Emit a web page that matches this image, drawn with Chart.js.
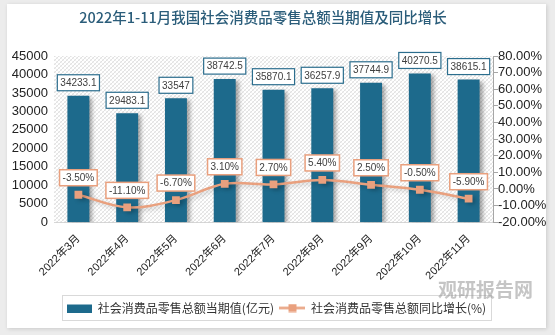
<!DOCTYPE html>
<html>
<head>
<meta charset="utf-8">
<script src="https://cdn.jsdelivr.net/npm/chart.js@4/dist/chart.umd.min.js"></script>
<style>
  html, body { margin: 0; padding: 0; background: #ececec; }
  #card {
    position: absolute; left: 7px; top: 4px; width: 539px; height: 324px;
    background: #fff; box-shadow: 1px 1px 4px rgba(0,0,0,0.15);
  }
  canvas { display: block; }
</style>
</head>
<body>
<div id="card"><canvas id="chart" width="539" height="324"></canvas></div>
<script>
const titleText = '2022年1-11月我国社会消费品零售总额当期值及同比增长';
const months = ['2022年3月', '2022年4月', '2022年5月', '2022年6月', '2022年7月', '2022年8月', '2022年9月', '2022年10月', '2022年11月'];
const retailValues = [34233.1, 29483.1, 33547, 38742.5, 35870.1, 36257.9, 37744.9, 40270.5, 38615.1];
const growthRates = [-3.5, -11.1, -6.7, 3.1, 2.7, 5.4, 2.5, -0.5, -5.9];
const seriesNames = ['社会消费品零售总额当期值(亿元)', '社会消费品零售总额同比增长(%)'];
const leftTicks = [0, 45000, 5000];
const rightTicks = [-20, 80, 10];

const barColor = '#1d6a8c';
const lineColor = '#e9a07e';
const fontFam = '"Liberation Sans", "Noto Sans CJK SC", sans-serif';

// hatch fill for the plot area
const hatch = document.createElement('canvas');
hatch.width = 4; hatch.height = 4;
{
  const h = hatch.getContext('2d');
  h.fillStyle = '#ffffff'; h.fillRect(0, 0, 4, 4);
  h.fillStyle = '#e2e2e2';
  for (let i = 0; i < 4; i++) h.fillRect(i, 3 - i, 1, 1);
  h.fillStyle = '#efefef';
  for (let i = 0; i < 4; i++) h.fillRect(i, i, 1, 1);
}

// legend swatches
const barSwatch = document.createElement('canvas');
barSwatch.width = 25; barSwatch.height = 9;
{
  const c = barSwatch.getContext('2d');
  c.fillStyle = barColor; c.fillRect(0, 1, 25, 8);
}
const lineSwatch = document.createElement('canvas');
lineSwatch.width = 26; lineSwatch.height = 9;
{
  const c = lineSwatch.getContext('2d');
  c.strokeStyle = lineColor; c.lineWidth = 2.5;
  c.beginPath(); c.moveTo(0, 4.5); c.lineTo(26, 4.5); c.stroke();
  c.fillStyle = lineColor; c.fillRect(9, 0.5, 8, 8);
}

const plotBg = {
  id: 'plotBg',
  beforeDatasetsDraw(chart) {
    const { ctx, chartArea: a } = chart;
    ctx.save();
    ctx.fillStyle = ctx.createPattern(hatch, 'repeat');
    ctx.fillRect(a.left, a.top, a.right - a.left, a.bottom - a.top);
    ctx.restore();
  },
  beforeDatasetDraw(chart, args) {
    const ctx = chart.ctx;
    ctx.save();
    ctx.shadowColor = args.index === 0 ? 'rgba(0,0,0,0.35)' : 'rgba(0,0,0,0.2)';
    ctx.shadowBlur = 4;
    ctx.shadowOffsetX = 3;
    ctx.shadowOffsetY = 2;
  },
  afterDatasetDraw(chart) {
    chart.ctx.restore();
  }
};

function drawBoxLabel(ctx, text, x, y, border, lw) {
  ctx.font = '10px ' + fontFam;
  const w = ctx.measureText(text).width + 6;
  const h = 16;
  ctx.fillStyle = '#fff';
  ctx.fillRect(x - w / 2, y - h / 2, w, h);
  ctx.strokeStyle = border;
  ctx.lineWidth = lw;
  ctx.strokeRect(x - w / 2, y - h / 2, w, h);
  ctx.fillStyle = '#404040';
  ctx.textAlign = 'center';
  ctx.textBaseline = 'middle';
  ctx.fillText(text, x, y + 0.5);
}

const boxLabels = {
  id: 'boxLabels',
  afterDatasetsDraw(chart) {
    const ctx = chart.ctx;
    ctx.save();
    chart.getDatasetMeta(0).data.forEach((bar, i) => {
      drawBoxLabel(ctx, String(retailValues[i]), bar.x, bar.y - 13, '#2c6e8e', 1.2);
    });
    chart.getDatasetMeta(1).data.forEach((pt, i) => {
      drawBoxLabel(ctx, growthRates[i].toFixed(2) + '%', pt.x, pt.y - 17, lineColor, 1.5);
    });
    ctx.restore();
  }
};

const frameAndTitle = {
  id: 'frameAndTitle',
  afterDraw(chart) {
    const ctx = chart.ctx;
    ctx.save();
    // title, a little left of centre like the original
    ctx.fillStyle = '#2b5d7a';
    ctx.font = '500 14.5px "Noto Sans CJK SC", sans-serif';
    ctx.textAlign = 'center';
    ctx.textBaseline = 'middle';
    ctx.fillText(titleText, 256, 13);

    const boxes = chart.legend.legendHitBoxes;
    if (boxes && boxes.length) {
      const l = Math.min(...boxes.map(b => b.left)) - 5;
      const r = Math.max(...boxes.map(b => b.left + b.width)) + 5;
      const t = Math.min(...boxes.map(b => b.top)) - 7;
      const btm = Math.max(...boxes.map(b => b.top + b.height)) + 6;
      ctx.strokeStyle = '#d9d9d9';
      ctx.lineWidth = 1;
      ctx.strokeRect(Math.round(l) + 0.5, Math.round(t) + 0.5, Math.round(r - l), Math.round(btm - t));
    }
    // watermark
    ctx.fillStyle = 'rgba(150,150,150,0.55)';
    ctx.font = 'bold 19px "Noto Sans CJK SC", sans-serif';
    ctx.textAlign = 'left';
    ctx.fillText('观研报告网', 431, 286);
    ctx.restore();
  }
};

new Chart(document.getElementById('chart'), {
  data: {
    labels: months,
    datasets: [
      {
        type: 'bar',
        label: seriesNames[0],
        data: retailValues,
        backgroundColor: barColor,
        barPercentage: 0.45,
        categoryPercentage: 1,
        yAxisID: 'y',
        order: 2,
      },
      {
        type: 'line',
        label: seriesNames[1],
        data: growthRates,
        borderColor: lineColor,
        backgroundColor: lineColor,
        borderWidth: 2.5,
        tension: 0.35,
        pointStyle: 'rect',
        pointRadius: 5.5,
        pointBorderWidth: 0,
        yAxisID: 'y1',
        order: 1,
      },
    ],
  },
  options: {
    responsive: false,
    animation: false,
    layout: { padding: { top: 52, left: 0, right: 0, bottom: 4 } },
    plugins: {
      title: { display: false },
      legend: {
        position: 'bottom',
        labels: {
          usePointStyle: true,
          pointStyleWidth: 25,
          padding: 6,
          color: '#333',
          font: { size: 12, family: '"Noto Sans CJK SC", sans-serif' },
          sort: (a, b) => a.datasetIndex - b.datasetIndex,
          generateLabels(chart) {
            const items = Chart.defaults.plugins.legend.labels.generateLabels(chart);
            items.forEach(it => {
              it.pointStyle = it.datasetIndex === 0 ? barSwatch : lineSwatch;
            });
            return items;
          },
        },
      },
      tooltip: { enabled: false },
    },
    scales: {
      x: {
        grid: { display: false },
        border: { display: true, color: '#d0d0d0' },
        afterFit(scale) {
          scale.paddingLeft = 0;
          scale.paddingRight = 0;
          scale.height += 11;
        },
        ticks: {
          minRotation: 45,
          maxRotation: 45,
          color: '#222',
          padding: 2,
          font: { size: 11, family: fontFam },
        },
      },
      y: {
        position: 'left',
        min: leftTicks[0],
        max: leftTicks[1],
        grid: { display: false, drawTicks: false },
        border: { display: false },
        afterFit(scale) { scale.width = 47; },
        ticks: {
          stepSize: leftTicks[2],
          autoSkip: false,
          color: '#222',
          padding: 6,
          font: { size: 13, family: fontFam },
          callback: v => String(v),
        },
      },
      y1: {
        position: 'right',
        min: rightTicks[0],
        max: rightTicks[1],
        grid: { drawOnChartArea: false, tickLength: 5, color: '#a6a6a6' },
        border: { display: true, color: '#a6a6a6' },
        afterFit(scale) { scale.width = 53; },
        ticks: {
          stepSize: rightTicks[2],
          autoSkip: false,
          color: '#222',
          padding: 0,
          font: { size: 13, family: fontFam },
          callback: v => v.toFixed(2) + '%',
        },
      },
    },
  },
  plugins: [plotBg, boxLabels, frameAndTitle],
});
</script>
</body>
</html>
